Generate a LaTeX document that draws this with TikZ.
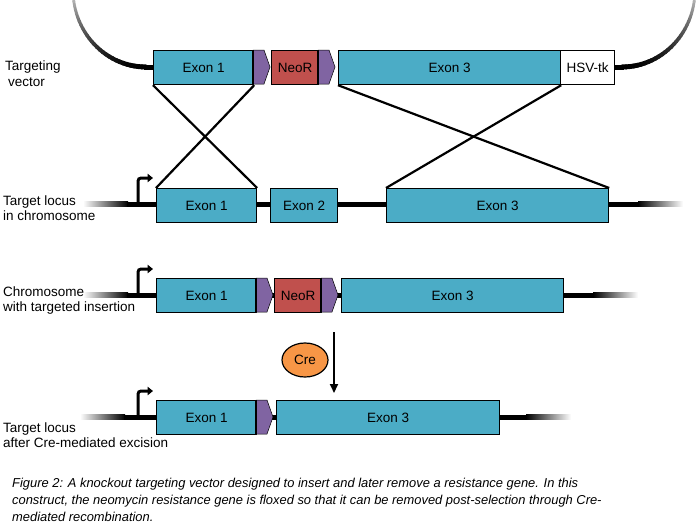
\documentclass[tikz,border=0pt]{standalone}
\usepackage{fontspec}
\setmainfont{Liberation Sans}
\usepackage{tikz}
\usetikzlibrary{arrows.meta}
\usetikzlibrary{shapes.geometric}
\usepackage{xcolor}

\definecolor{exonblue}{HTML}{4BACC6}
\definecolor{neored}{HTML}{C0504D}
\definecolor{loxpurple}{HTML}{8064A2}
\definecolor{creorange}{HTML}{F79646}

\tikzset{
  exon/.style={draw, line width=1.2pt, fill=exonblue, minimum height=34pt, inner sep=0pt,
    anchor=north west, font=\fontsize{13.5}{15}\selectfont},
  neo/.style={exon, fill=neored},
  tk/.style={exon, fill=white},
  rowlabel/.style={anchor=base west, inner sep=0pt, font=\fontsize{13.5}{16}\selectfont},
  captionline/.style={anchor=base west, inner sep=0pt, font=\fontsize{12.9}{15}\selectfont\itshape},
  cross/.style={line width=2.2pt},
  promoter/.style={line width=3pt, rounded corners=3pt, -{Triangle[length=5.5pt,width=8.5pt]}},
}

% loxP site: x, top y
\newcommand{\loxp}[2]{%
  \filldraw[fill=loxpurple, draw=black, line width=0.5pt] (#1,#2) -- ++(11,0) -- ++(6,17) -- ++(-6,17) -- ++(-11,0) -- cycle;
  \draw[line width=2.6pt] (#1,#2) -- ++(0,34);
}

% chromosome: y, x start, x end
\newcommand{\chromline}[3]{%
  \shade[left color=white, right color=black] (#2,#1-2.5) rectangle (#2+45,#1+2.5);
  \fill (#2+44,#1-2.5) rectangle (#3-44,#1+2.5);
  \shade[left color=black, right color=white] (#3-45,#1-2.5) rectangle (#3,#1+2.5);
}

\begin{document}
\begin{tikzpicture}[x=1pt, y=-1pt]
\useasboundingbox (0,0) rectangle (700,525);

% targeting vector
\foreach \i in {0,...,29} {
  \pgfmathsetmacro{\ta}{90+3*\i}
  \pgfmathsetmacro{\tb}{\ta+3.4}
  \pgfmathsetmacro{\c}{100-80*(\i/29)*(\i/29)}
  \pgfmathsetmacro{\w}{5-2.5*\i/29}
  \draw[line width=\w pt, black!\c, line cap=round] ({146+73*cos(\ta)},{-10+77*sin(\ta)}) -- ({146+73*cos(\tb)},{-10+77*sin(\tb)});
  \draw[line width=\w pt, black!\c, line cap=round] ({622-73*cos(\ta)},{-10+77*sin(\ta)}) -- ({622-73*cos(\tb)},{-10+77*sin(\tb)});
}
\draw[line width=5pt] (144,67) -- (154,67);
\draw[line width=5pt] (613,67) -- (624,67);

\node[exon, minimum width=100pt] (v1) at (153,50) {Exon 1};
\node[neo, minimum width=47pt] (vneo) at (271,50) {NeoR};
\node[exon, minimum width=222pt] (v3) at (338,50) {Exon 3};
\node[tk, minimum width=54pt] (vtk) at (560,50) {HSV-tk};
\loxp{253}{50}
\loxp{318}{50}

\node[rowlabel] (lv1) at (5,70) {Targeting};
\node[rowlabel] (lv2) at (8,86) {vector};

% target locus
\chromline{204}{83}{683}
\draw[promoter] (138,204) -- (138,178) -- (153,178);
\node[exon, minimum width=100pt] (c1) at (156,188) {Exon 1};
\node[exon, minimum width=67pt] (c2) at (270,188) {Exon 2};
\node[exon, minimum width=222pt] (c3) at (386,188) {Exon 3};

\node[rowlabel] (lc1) at (3,205) {Target locus};
\node[rowlabel] (lc2) at (3,220) {in chromosome};

\draw[cross] (v1.south west) -- (c1.north east);
\draw[cross] (v1.south east) -- (c1.north west);
\draw[cross] (v3.south west) -- (c3.north east);
\draw[cross] (v3.south east) -- (c3.north west);

% targeted insertion
\chromline{295}{83}{638}
\draw[promoter] (138,295) -- (138,269) -- (153,269);
\node[exon, minimum width=100pt] (t1) at (156,278) {Exon 1};
\node[neo, minimum width=47pt] (tneo) at (274,278) {NeoR};
\node[exon, minimum width=222pt] (t3) at (341,278) {Exon 3};
\loxp{256}{278}
\loxp{321}{278}

\node[rowlabel] (lt1) at (3,296) {Chromosome};
\node[rowlabel] (lt2) at (3,311.5) {with targeted insertion};

% Cre excision
\node[draw, ellipse, line width=1.2pt, fill=creorange, minimum width=46pt, minimum height=34pt,
  font=\fontsize{13.5}{15}\selectfont] (cre) at (305,360) {Cre};
\coordinate (creA) at (334,332);
\coordinate (creB) at (334,393);
\draw[line width=2pt, -{Triangle[length=9pt,width=8pt]}] (creA) -- (creB);

\chromline{417}{80}{571}
\draw[promoter] (138,417) -- (138,391) -- (153,391);
\node[exon, minimum width=100pt] (e1) at (156,400) {Exon 1};
\node[exon, minimum width=223pt] (e3) at (276,400) {Exon 3};
\loxp{256}{400}

\node[rowlabel] (le1) at (3,432) {Target locus};
\node[rowlabel] (le2) at (3,447.5) {after Cre-mediated excision};

% caption
\node[captionline] (cap1) at (12,487) {Figure 2: A knockout targeting vector designed to insert and later remove a resistance gene. In this};
\node[captionline] (cap2) at (12,504) {construct, the neomycin resistance gene is floxed so that it can be removed post-selection through Cre-};
\node[captionline] (cap3) at (12,521) {mediated recombination.};
\end{tikzpicture}
\end{document}
